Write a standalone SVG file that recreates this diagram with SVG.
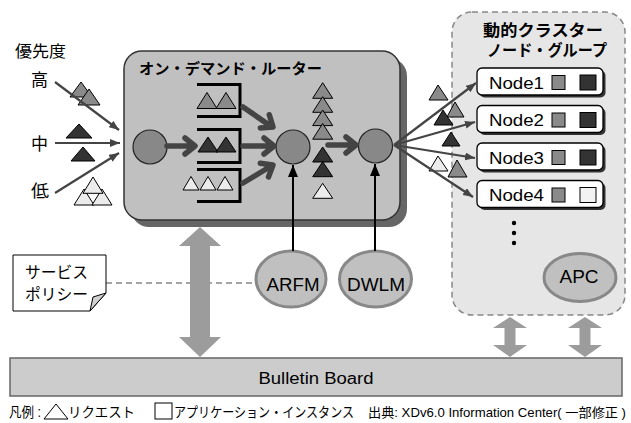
<svg xmlns="http://www.w3.org/2000/svg" width="631" height="423" viewBox="0 0 631 423">
<defs>
<style>
text{font-family:"Liberation Sans","Noto Sans CJK JP",sans-serif;fill:#000}
.b{font-weight:bold}
.tg{fill:#8a8a8a;stroke:#000;stroke-width:1}
.td{fill:#333;stroke:#000;stroke-width:1}
.tw{fill:#ececec;stroke:#000;stroke-width:1}
.circ{fill:#888;stroke:#222;stroke-width:1.2}
.thick{fill:none;stroke:#444;stroke-width:5.5;stroke-linecap:round;stroke-linejoin:round}
.brk{fill:none;stroke:#000;stroke-width:3}
.thin{fill:none;stroke:#444;stroke-width:2.2}
.blk{fill:none;stroke:#000;stroke-width:2}
.ell{fill:#c0c0c0;stroke:#888;stroke-width:3}
.nbox{fill:#fff;stroke:#000;stroke-width:1.3}
.nsh{fill:#333}
.sqg{fill:#8a8a8a;stroke:#000;stroke-width:1}
.sqd{fill:#333;stroke:#000;stroke-width:1}
.sqw{fill:#f2f2f2;stroke:#000;stroke-width:1}
.garrow{fill:#9c9c9c}
</style>
<marker id="ah" viewBox="0 0 10 8" refX="10" refY="4" markerWidth="10" markerHeight="8" markerUnits="userSpaceOnUse" orient="auto"><path d="M0,0 L10,4 L0,8 z" fill="#444"/></marker>
<marker id="ahb" viewBox="0 0 12 10" refX="12" refY="5" markerWidth="12" markerHeight="10" markerUnits="userSpaceOnUse" orient="auto"><path d="M0,0 L12,5 L0,10 z" fill="#000"/></marker>
</defs>
<rect width="631" height="423" fill="#fff"/>

<!-- dynamic cluster group -->
<g id="cluster">
<rect x="452" y="12" width="173" height="303" rx="20" fill="#e6e6e6" stroke="#888" stroke-width="1.5" stroke-dasharray="6,4"/>
<text class="b" x="483" y="36" font-size="16" textLength="120" lengthAdjust="spacingAndGlyphs">動的クラスター</text>
<text class="b" x="487" y="56" font-size="16" textLength="120" lengthAdjust="spacingAndGlyphs">ノード・グループ</text>
<circle cx="514" cy="223" r="2.2" fill="#000"/>
<circle cx="514" cy="233" r="2.2" fill="#000"/>
<circle cx="514" cy="243" r="2.2" fill="#000"/>
</g>

<g id="node1">
<rect class="nsh" x="479.5" y="70.5" width="126" height="27" rx="5"/>
<rect class="nbox" x="477" y="68" width="126" height="27" rx="5"/>
<text x="489" y="88.5" font-size="16" textLength="55" lengthAdjust="spacingAndGlyphs">Node1</text>
<rect class="sqg" x="552" y="75.5" width="13" height="14"/>
<rect class="sqd" x="580" y="75" width="16" height="15"/>
</g>
<g id="node2">
<rect class="nsh" x="479.5" y="108" width="126" height="27" rx="5"/>
<rect class="nbox" x="477" y="105.5" width="126" height="27" rx="5"/>
<text x="489" y="126" font-size="16" textLength="55" lengthAdjust="spacingAndGlyphs">Node2</text>
<rect class="sqg" x="552" y="113" width="13" height="14"/>
<rect class="sqd" x="580" y="112.5" width="16" height="15"/>
</g>
<g id="node3">
<rect class="nsh" x="479.5" y="145.5" width="126" height="27" rx="5"/>
<rect class="nbox" x="477" y="143" width="126" height="27" rx="5"/>
<text x="489" y="163.5" font-size="16" textLength="55" lengthAdjust="spacingAndGlyphs">Node3</text>
<rect class="sqg" x="552" y="150.5" width="13" height="14"/>
<rect class="sqd" x="580" y="150" width="16" height="15"/>
</g>
<g id="node4">
<rect class="nsh" x="479.5" y="183" width="126" height="27" rx="5"/>
<rect class="nbox" x="477" y="180.5" width="126" height="27" rx="5"/>
<text x="489" y="201" font-size="16" textLength="55" lengthAdjust="spacingAndGlyphs">Node4</text>
<rect class="sqg" x="552" y="188" width="13" height="14"/>
<rect class="sqw" x="580" y="187.5" width="16" height="15"/>
</g>
<g id="apc">
<ellipse class="ell" cx="580" cy="277.5" rx="36" ry="24" fill="#bdbdbd"/>
<text x="579" y="283" font-size="18" text-anchor="middle" textLength="39" lengthAdjust="spacingAndGlyphs">APC</text>
</g>

<!-- router -->
<g id="router">
<rect x="131" y="58" width="276" height="169" rx="18" fill="#666"/>
<rect x="124" y="51" width="276" height="169" rx="18" fill="#c0c0c0" stroke="#333" stroke-width="1.5"/>
<text class="b" x="139" y="74" font-size="15" textLength="183" lengthAdjust="spacingAndGlyphs">オン・デマンド・ルーター</text>
<circle class="circ" cx="150" cy="147" r="17"/>
<circle class="circ" cx="293" cy="147" r="17"/>
<circle class="circ" cx="375.5" cy="146" r="17"/>
<!-- queues -->
<path class="brk" d="M197,84.5 H240 V116.5 H197"/>
<path class="brk" d="M197,129.5 H240 V162.5 H197"/>
<path class="brk" d="M197,169.5 H240 V201.5 H197"/>
<polygon class="tg" points="207,92.5 197,108.5 217,108.5"/>
<polygon class="tg" points="226,92.5 216,108.5 236,108.5"/>
<polygon class="td" points="208,137 198,152 218,152"/>
<polygon class="td" points="226,137 216,152 236,152"/>
<polygon class="tw" points="191,176.5 183,190 199,190"/>
<polygon class="tw" points="208,176.5 200,190 216,190"/>
<polygon class="tw" points="225,176.5 217,190 233,190"/>
<!-- middle column -->
<polygon class="tg" points="322.7,82.7 312.7,98.3 332.7,98.3"/>
<polygon class="tg" points="322.7,96.7 312.7,112.3 332.7,112.3"/>
<polygon class="tg" points="322.7,110 312.7,125.6 332.7,125.6"/>
<polygon class="tg" points="322.7,123.5 312.7,139.2 332.7,139.2"/>
<polygon class="td" points="322.7,147 312.7,162 332.7,162"/>
<polygon class="td" points="322.7,161.7 312.7,176.7 332.7,176.7"/>
<polygon class="tw" points="322.7,183.3 312.7,198.3 332.7,198.3"/>
</g>

<!-- left priorities -->
<g id="priority">
<text x="15" y="57" font-size="16" textLength="51" lengthAdjust="spacingAndGlyphs">優先度</text>
<text x="31" y="86" font-size="17" textLength="17" lengthAdjust="spacingAndGlyphs">高</text>
<text x="31" y="150" font-size="17" textLength="17" lengthAdjust="spacingAndGlyphs">中</text>
<text x="31" y="197" font-size="17" textLength="18" lengthAdjust="spacingAndGlyphs">低</text>
<polygon class="tg" points="81,82 70,97 92,97"/>
<polygon class="tg" points="89,89 78,105 100,105"/>
<polygon class="td" points="79,124 66,138 92,138"/>
<polygon class="td" points="83,147 71,161 95,161"/>
<polygon class="tw" points="84,189 74,205 94,205"/>
<polygon class="tw" points="102,189 92,205 112,205"/>
<polygon class="tw" points="93,177 83,193.3 103,193.3"/>
</g>

<!-- right side triangles -->
<g id="outgoing">
<polygon class="tg" points="438,85 429,100 448,100"/>
<polygon class="tg" points="455,102 447,117 464,117"/>
<polygon class="td" points="443,110 434,125 453,125"/>
<polygon class="td" points="451,132 442,146 460,146"/>
<polygon class="tw" points="438,156 429,171 448,171"/>
<polygon class="tg" points="457,160 448,177 467,177"/>
</g>

<!-- service policy note -->
<g id="policy">
<line x1="106" y1="283" x2="256" y2="283" stroke="#888" stroke-width="1.5" stroke-dasharray="6,4"/>
<path d="M13,255 H106 V293 L90,311 H13 Z" fill="#fff" stroke="#000" stroke-width="1"/>
<path d="M106,293 L90,311 L93,297 Z" fill="#d0d0d0" stroke="#000" stroke-width="1"/>
<text x="25" y="278" font-size="16" textLength="63" lengthAdjust="spacingAndGlyphs">サービス</text>
<text x="25" y="300" font-size="16" textLength="63" lengthAdjust="spacingAndGlyphs">ポリシー</text>
</g>

<g id="arfm">
<ellipse class="ell" cx="291" cy="279" rx="35" ry="28"/>
<text x="293" y="291" font-size="18" text-anchor="middle" textLength="53" lengthAdjust="spacingAndGlyphs">ARFM</text>
</g>
<g id="dwlm">
<ellipse class="ell" cx="375.5" cy="279" rx="36" ry="28"/>
<text x="376" y="291" font-size="18" text-anchor="middle" textLength="58" lengthAdjust="spacingAndGlyphs">DWLM</text>
</g>

<g id="bulletin">
<rect x="10" y="358" width="612" height="38" fill="#cccccc" stroke="#666" stroke-width="1.5"/>
<text x="316" y="384" font-size="16" text-anchor="middle" textLength="115" lengthAdjust="spacingAndGlyphs">Bulletin Board</text>
</g>

<!-- connectors -->
<g id="connectors">
<line class="thin" x1="55" y1="82" x2="119" y2="130" marker-end="url(#ah)"/>
<line class="thin" x1="55" y1="143" x2="120" y2="143" marker-end="url(#ah)"/>
<line class="thin" x1="55" y1="193" x2="119" y2="153" marker-end="url(#ah)"/>
<path class="thick" d="M167,146 H194 M185,138 L195,146 L185,154"/>
<path class="thick" d="M243,107 L272,127 M269.3,114.7 L273,127 L260.3,127.9"/>
<path class="thick" d="M243,146 H272 M264,138 L274,146 L264,154"/>
<path class="thick" d="M243,183 L272,165.5 M268.5,177 L273,165 L260.3,163.2"/>
<path class="thick" d="M328,145 H354 M346,137 L356,145 L346,153"/>
<line class="thin" x1="394" y1="145" x2="476" y2="83" marker-end="url(#ah)"/>
<line class="thin" x1="394" y1="145" x2="475" y2="122" marker-end="url(#ah)"/>
<line class="thin" x1="394" y1="145" x2="475" y2="158" marker-end="url(#ah)"/>
<line class="thin" x1="394" y1="145" x2="473" y2="197" marker-end="url(#ah)"/>
<line class="blk" x1="293" y1="251" x2="293" y2="165" marker-end="url(#ahb)"/>
<line class="blk" x1="375" y1="251" x2="375" y2="164" marker-end="url(#ahb)"/>
<polygon class="garrow" points="200,227 221,246 210,246 210,337 221,337 200,357 179,337 190,337 190,246 179,246"/>
<polygon class="garrow" points="510,317 527,328 515.5,328 515.5,345 527,345 510,357 493,345 504.5,345 504.5,328 493,328"/>
<polygon class="garrow" points="585,317 602,328 590.5,328 590.5,345 602,345 585,357 568,345 579.5,345 579.5,328 568,328"/>
</g>

<!-- legend -->
<g id="legend">
<text x="9" y="417" font-size="14" textLength="32" lengthAdjust="spacingAndGlyphs">凡例 :</text>
<polygon points="56,404 44,419 68,419" fill="#fff" stroke="#000" stroke-width="1"/>
<text x="68" y="417" font-size="14" textLength="67" lengthAdjust="spacingAndGlyphs">リクエスト</text>
<rect x="155" y="403" width="17" height="16" fill="#fff" stroke="#000" stroke-width="1"/>
<text x="174" y="417" font-size="14" textLength="180" lengthAdjust="spacingAndGlyphs">アプリケーション・インスタンス</text>
<text x="368" y="417" font-size="13" textLength="258" lengthAdjust="spacingAndGlyphs">出典: XDv6.0 Information Center( 一部修正 )</text>
</g>
</svg>
